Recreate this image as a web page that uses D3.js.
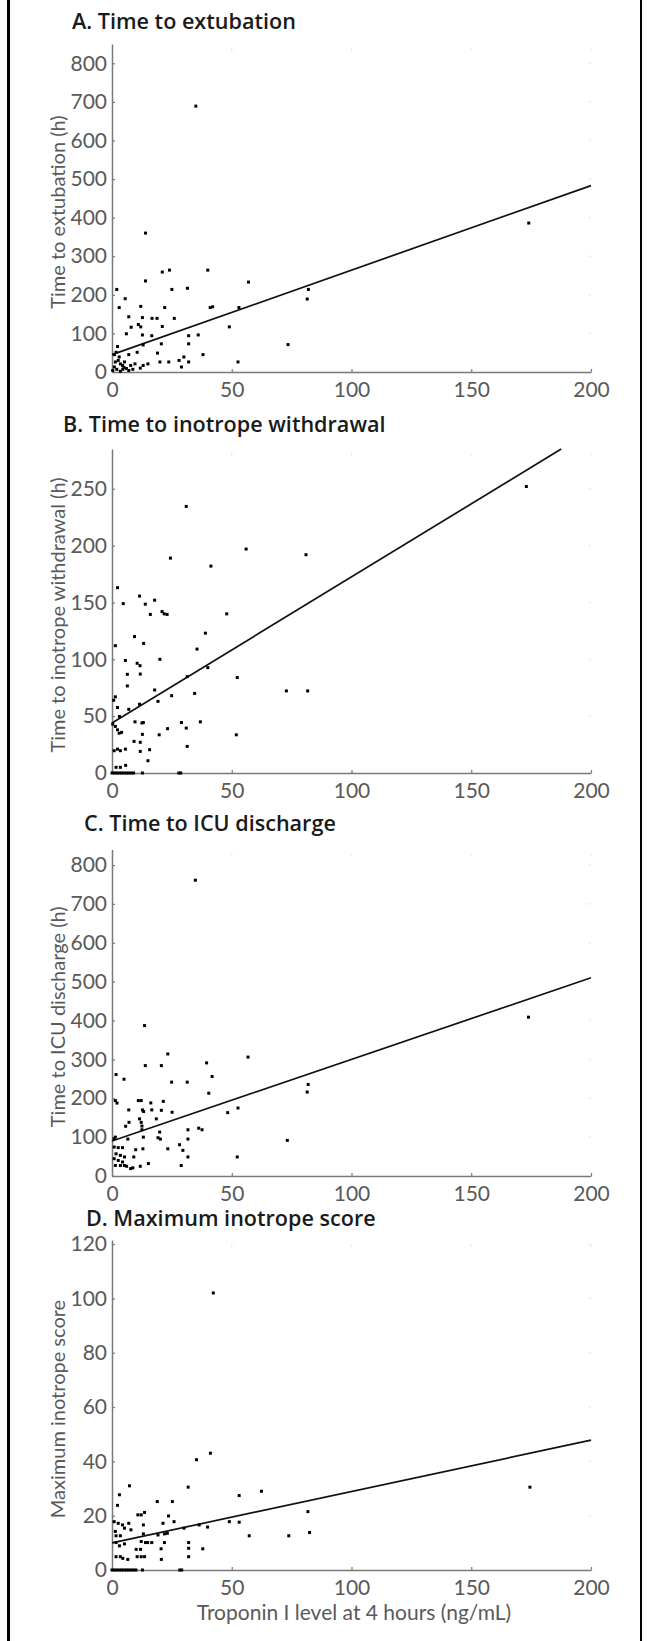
<!DOCTYPE html>
<html>
<head>
<meta charset="utf-8">
<style>
    body { margin: 0; background: #fff; }
    svg { display: block; font-family: Lato, 'Open Sans', sans-serif; }
    .tick-label { fill: #595959; font-size: 21px; }
    .axis-title { fill: #595959; font-size: 20px; }
    .panel-title { fill: #1a1a1a; font-size: 18px; font-weight: 600; font-family: 'Open Sans', Lato, sans-serif; }
</style>
</head>
<body>
<svg width="647" height="1641"></svg>

<script src="https://d3js.org/d3.v7.min.js"></script>
<script>
    // x = Troponin I at 4 h (ng/mL), y = outcome
    let extubation = [[35,689],[14,360],[174,386],[21,259],[24,264],[40,264],[57,233],[14,236],[2,214],[25,214],[31.5,217],[5.5,190],[82,214],[81.5,189],[3,167],[12,170],[22,167],[41,167],[42,169],[53,167],[7,143],[12.7,141],[16.7,139],[18.8,139],[26,139],[8,116],[11,123],[12,117],[21,118],[49,117],[6,99],[12.7,96],[16.6,94],[32,94],[36,96],[2.3,66],[13,70],[20.6,73],[32,73],[73.5,71],[7,45],[10.5,51],[19,49],[38,45],[15,21],[20,26],[23.7,26],[28,30],[30,39],[32,26],[52.6,26],[29,13],[13,17],[1.7,51],[2.6,30],[3.5,21],[4.4,17],[5.2,26],[6,9],[1,13],[2,7],[4.5,7],[7,4],[8.7,7],[9.6,21],[11.8,10],[3,39],[1.4,26],[7.8,17],[0.3,4],[3.5,2],[1,45],[5,12]];

    let inotropeWithdrawal = [[173,252],[31,234.5],[56,197],[81,192],[24.4,189],[41.3,182],[2.3,163],[11.5,155.6],[17.8,152],[4.7,149],[13.9,148.5],[47.9,140],[16,139.5],[20.9,142],[21.8,140],[23,139.5],[39,123],[9.4,120],[13.2,114],[1.4,112],[35.5,109],[20,100],[5.6,99],[10.5,96.5],[11.7,94.4],[40,92.7],[6.4,86.8],[11.8,87],[52.3,84],[31.4,84.8],[6.4,76.6],[17.8,73],[72.8,72.2],[81.7,72.2],[34.5,70],[24.9,68],[1.4,67],[0.7,64],[19.2,63],[11.5,60.5],[2.3,57.6],[7,56],[3.1,49.7],[9.6,45],[12.5,44],[13.1,44.4],[29,44.4],[36.9,45],[0.3,43],[1.4,41],[2.3,38],[3,35],[4,35.7],[31,39.5],[23.2,39],[12.7,34],[19.7,33.6],[51.9,33.6],[9.2,27.8],[11.8,27],[31.4,23.4],[0.9,19.6],[2.3,21],[3.5,19.6],[5.6,21],[11.8,19],[15.7,20.5],[15,10.8],[5.7,6.7],[1.7,5],[3.5,5],[0,0],[1,0],[2,0],[3,0],[4,0],[5,0],[6,0],[7,0],[8,0],[9,0],[12.7,0],[27.9,0],[28.7,0]];

    let icuDischarge = [[34.8,761],[13.6,387],[173.9,408.6],[23.3,314],[56.8,306],[39.5,291],[13.9,284],[20.6,284],[1.7,261],[41.8,256],[5,249],[24.9,241.5],[31.4,241.5],[81.9,235.5],[81.5,216],[40.4,213],[11,194],[12.2,194],[21.4,192],[1.4,194],[2.1,187.6],[16.2,188],[52.6,175],[7,170],[12.7,170],[13.2,166],[16.6,170],[20.6,169],[25.1,164],[48.3,163],[11.5,147],[18.5,147],[7.1,138],[12.2,138],[5.7,128],[12.5,128.5],[19.9,113],[36.2,123],[37.6,119],[31.7,119],[12.5,119],[13.1,100],[19.2,98.5],[20.2,95],[31.7,95],[73.2,91.6],[6.6,95],[1.4,100],[28.2,80.5],[29.6,66],[9.9,67.7],[23.3,70],[12.9,70],[9.1,49],[31.7,49],[52.3,49],[28.9,27],[15.2,32],[11.8,25],[0.9,96],[0.9,74.5],[2.6,73],[4.4,73],[1.7,57],[3.5,53],[5.2,49],[0.9,44.5],[2.6,40],[4.4,36],[1.4,27],[3.5,27],[6.1,25],[7.8,19],[8.7,21],[5.2,27]];

    let inotropeScore = [[42.3,102],[41.1,43],[35.3,40.6],[174.5,30.5],[7.3,31],[31.8,30.5],[62.4,29],[3.1,27.7],[53.1,27.4],[18.9,25.2],[25.2,25.2],[2.3,23.8],[81.8,21.5],[10.8,20.3],[12.2,20.3],[13.6,21.2],[23.6,19.9],[21.3,17.2],[25.9,17.8],[49,17.8],[53.1,17.6],[36.4,16.6],[39.9,15.8],[30.1,15.4],[13.1,16.6],[0.9,17.8],[2.6,17.2],[4.4,16.6],[7,17.2],[7.9,14.8],[5.2,15.4],[1.4,14.2],[82.5,13.8],[57.3,12.6],[73.8,12.6],[1.7,12.6],[3.5,12.6],[19.2,12.9],[21.9,13.3],[23.1,13.5],[13.1,13.3],[12.2,10.5],[14.9,10.1],[16.6,10.1],[14,10.1],[21.9,10.1],[32,10.1],[1.7,10.1],[5.2,9.6],[3.1,8.9],[10.1,7.6],[11.9,7.6],[20.5,7.8],[32,8],[37.9,7.8],[3.5,4.9],[4.5,4.3],[6.6,3.9],[10.5,4.9],[12.2,4.9],[13.6,4.9],[20.6,3.9],[32,4.9],[1.7,4.9],[0,0],[1,0],[2,0],[3,0],[4,0],[5,0],[6,0],[7,0],[8,0],[9,0],[10,0],[12.7,0],[28.3,0],[29.1,0]];

    // fitted lines: [intercept, slope]
    let fitLines = [[45, 2.19], [44, 1.285], [90, 2.1], [10, 0.189]];

    let panelTitles = ["A. Time to extubation", "B. Time to inotrope withdrawal", "C. Time to ICU discharge", "D. Maximum inotrope score"];
    let yTitles = ["Time to extubation (h)", "Time to inotrope withdrawal (h)", "Time to ICU discharge (h)", "Maximum inotrope score"];
    let yMax = [850, 285, 840, 121.5];
    let yTickValues = [
        [0, 100, 200, 300, 400, 500, 600, 700, 800],
        [0, 50, 100, 150, 200, 250],
        [0, 100, 200, 300, 400, 500, 600, 700, 800],
        [0, 20, 40, 60, 80, 100, 120]
    ];
    let xTickValues = [0, 50, 100, 150, 200];
    let xTitle = "Troponin I level at 4 hours (ng/mL)";

    let allData = [extubation, inotropeWithdrawal, icuDischarge, inotropeScore];

    // layout of each panel (pixel positions)
    let panels = [
        { top: 44, bottom: 372, titleX: 72, titleY: 29 },
        { top: 449, bottom: 773, titleX: 63, titleY: 432 },
        { top: 849.5, bottom: 1176, titleX: 84, titleY: 831 },
        { top: 1240, bottom: 1570, titleX: 86, titleY: 1226 }
    ];
    let left = 112, right = 591;

    let svg = d3.select("svg");

    // frame lines at the sides
    svg.append("line").attr("x1", 8.5).attr("x2", 8.5).attr("y1", 0).attr("y2", 1641)
        .style("stroke", "#000").style("stroke-width", 3);
    svg.append("line").attr("x1", 641).attr("x2", 641).attr("y1", 0).attr("y2", 1641)
        .style("stroke", "#000").style("stroke-width", 2);

    let titleNodes = [];

    panels.forEach(function (p, i) {
        let x = d3.scaleLinear().domain([0, 200]).range([left, right]);
        let y = d3.scaleLinear().domain([0, yMax[i]]).range([p.bottom, p.top]);
        let g = svg.append("g");

        titleNodes.push(g.append("text").attr("class", "panel-title")
            .attr("x", p.titleX).attr("y", p.titleY)
            .text(panelTitles[i]));

        // faint box ticks on top / right
        g.selectAll(".ghost-x").data(xTickValues.slice(1)).join("line")
            .attr("x1", d => x(d)).attr("x2", d => x(d))
            .attr("y1", p.top + 4).attr("y2", p.top + 7)
            .style("stroke", "#eee").style("stroke-width", 1.5);
        g.selectAll(".ghost-y").data(yTickValues[i].slice(1)).join("line")
            .attr("x1", right - 3).attr("x2", right)
            .attr("y1", d => y(d)).attr("y2", d => y(d))
            .style("stroke", "#eee").style("stroke-width", 1.5);

        let xAxis = g.append("g")
            .attr("transform", "translate(0," + p.bottom + ")")
            .call(d3.axisBottom(x).tickValues(xTickValues).tickSizeInner(-3).tickSizeOuter(0).tickPadding(10));
        let yAxis = g.append("g")
            .attr("transform", "translate(" + left + ",0)")
            .call(d3.axisLeft(y).tickValues(yTickValues[i]).tickSizeInner(-3).tickSizeOuter(0).tickPadding(5));

        [xAxis, yAxis].forEach(function (a) {
            a.attr("font-size", null).attr("font-family", null);
            a.select(".domain").style("stroke", "#7a7a7a").style("stroke-width", 1.5);
            a.selectAll(".tick line").style("stroke", "#7a7a7a").style("stroke-width", 1.2);
            a.selectAll(".tick text").attr("class", "tick-label").attr("fill", null);
        });

        g.append("text").attr("class", "axis-title")
            .attr("transform", "translate(65," + ((p.top + p.bottom) / 2 + 4) + ") rotate(-90)")
            .attr("text-anchor", "middle")
            .text(yTitles[i]);

        // fitted line, stopped at top of the plot
        let a = fitLines[i][0], b = fitLines[i][1];
        let xEnd = Math.min(200, (yMax[i] - a) / b);
        g.append("line")
            .attr("x1", x(0)).attr("y1", y(a))
            .attr("x2", x(xEnd)).attr("y2", y(a + b * xEnd))
            .style("stroke", "#111").style("stroke-width", 1.7);

        g.selectAll(".pt").data(allData[i]).join("rect")
            .attr("x", d => x(d[0]) - 1.5)
            .attr("y", d => y(d[1]) - 1.5)
            .attr("width", 3).attr("height", 3)
            .style("fill", "#000");
    });

    // size the panel titles so "A. Time to extubation" is about 224px wide, as in the figure
    let w = titleNodes[0].node().getComputedTextLength();
    let titleSize = Math.min(22, Math.max(16, 18 * 224 / w));
    titleNodes.forEach(t => t.style("font-size", titleSize + "px"));

    svg.append("text").attr("class", "axis-title")
        .attr("x", 354).attr("y", 1620)
        .attr("text-anchor", "middle")
        .style("font-size", "21px")
        .text(xTitle);
</script>
</body>
</html>
